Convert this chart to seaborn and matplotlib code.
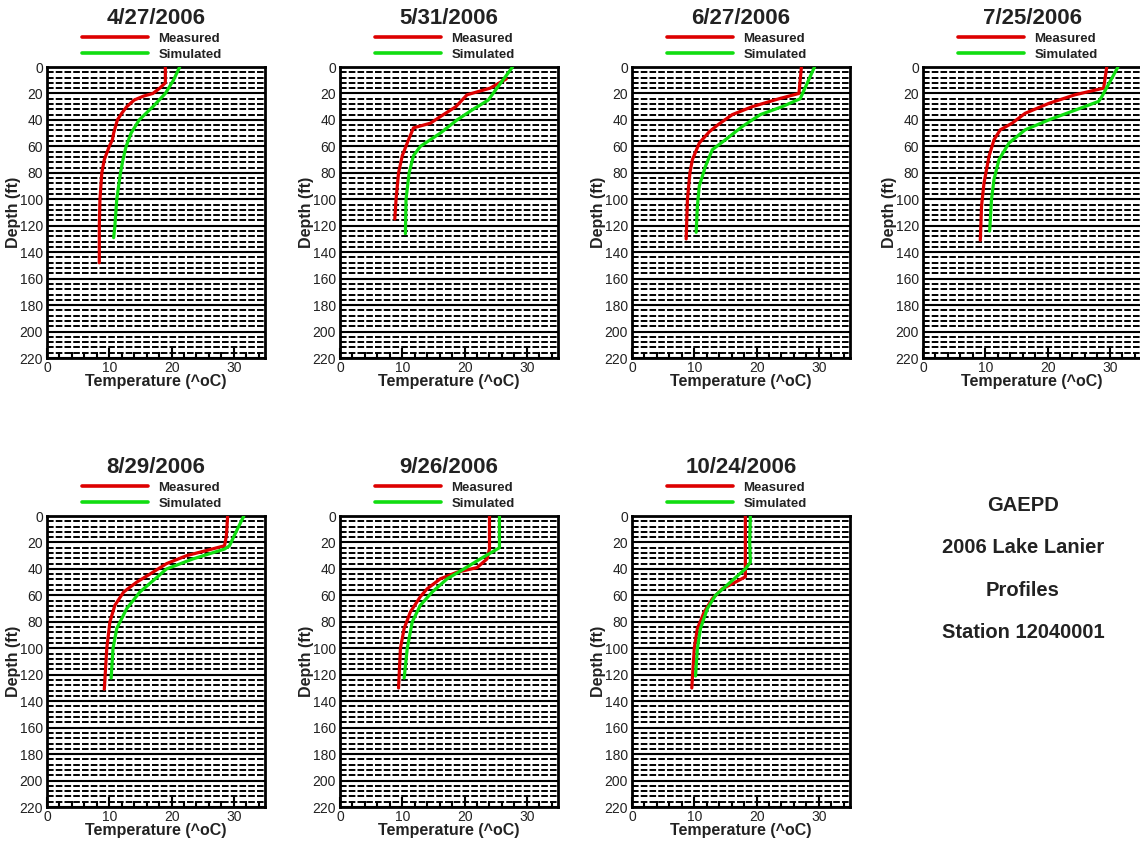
import numpy as np
import pandas as pd
import matplotlib
matplotlib.use("Agg")
import matplotlib.pyplot as plt
from matplotlib.ticker import MultipleLocator
import seaborn as sns

sns.set_theme(style="white")
plt.rcParams['font.family'] = ['Liberation Sans', 'DejaVu Sans']

# ---------------- data ----------------
dates = ["4/27/2006", "5/31/2006", "6/27/2006", "7/25/2006",
         "8/29/2006", "9/26/2006", "10/24/2006"]

meas_depth_0427 = [0, 12, 16, 20, 22, 25, 30, 35, 40, 50, 55, 60, 70, 80, 100, 120, 148]
meas_temp_0427 = [19.0, 19.0, 18.1, 17.0, 15.5, 14.0, 12.8, 12.0, 11.3, 10.7, 10.5, 10.0, 9.2, 8.8, 8.5, 8.4, 8.4]
sim_depth_0427 = [0, 10, 20, 30, 40, 50, 60, 70, 80, 100, 120, 129]
sim_temp_0427 = [21.3, 20.3, 19.0, 17.0, 14.8, 13.5, 12.7, 12.2, 11.8, 11.2, 10.9, 10.7]

meas_depth_0531 = [9, 16, 21, 30, 36, 42.5, 46, 55, 67, 80, 100, 115]
meas_temp_0531 = [26.7, 24.1, 20.4, 18.6, 16.6, 14.5, 11.8, 11.0, 10.0, 9.4, 9.0, 8.8]
sim_depth_0531 = [0, 16, 25, 32.5, 40, 50, 60, 67, 80, 100, 126]
sim_temp_0531 = [27.7, 25.2, 23.8, 21.2, 18.8, 16.1, 12.9, 11.8, 11.1, 10.6, 10.5]

meas_depth_0627 = [0, 20, 24, 30, 36, 44, 49, 57.5, 70, 80, 100, 130]
meas_temp_0627 = [27.2, 26.8, 23.6, 19.3, 16.1, 13.7, 12.4, 10.8, 9.7, 9.3, 8.9, 8.7]
sim_depth_0627 = [0, 24, 30, 36, 45, 55, 62.5, 75, 90, 105, 125]
sim_temp_0627 = [29.3, 27.0, 24.1, 20.6, 17.7, 15.0, 12.9, 11.8, 10.8, 10.5, 10.3]

meas_depth_0725 = [0, 16, 21, 27.5, 35, 42.5, 47.5, 55, 67.5, 87.5, 105, 131]
meas_temp_0725 = [29.5, 29.0, 24.4, 20.2, 16.4, 14.3, 12.4, 11.4, 10.6, 9.8, 9.4, 9.2]
sim_depth_0725 = [0, 22.5, 26, 32.5, 40, 47.5, 57.5, 70, 85, 100, 124]
sim_temp_0725 = [31.3, 28.7, 28.2, 24.5, 20.2, 16.4, 13.8, 12.2, 11.4, 11.0, 10.7]

meas_depth_0829 = [0, 15, 22.5, 30, 36, 44, 50, 57.5, 67.5, 80, 100, 131]
meas_temp_0829 = [29.0, 28.8, 28.5, 22.4, 19.2, 16.5, 14.4, 12.3, 10.9, 10.1, 9.6, 9.2]
sim_depth_0829 = [0, 12.5, 22.5, 25, 32.5, 40, 49, 57.5, 70, 85, 100, 122.5]
sim_temp_0829 = [31.6, 30.3, 29.3, 28.5, 23.4, 19.2, 17.0, 14.9, 12.8, 11.2, 10.6, 10.3]

meas_depth_0926 = [0, 25, 32.5, 39, 42.5, 47.5, 55, 61, 72.5, 85, 100, 130]
meas_temp_0926 = [24.0, 24.0, 23.6, 22.0, 18.8, 16.1, 14.0, 12.9, 11.3, 10.3, 9.7, 9.4]
sim_depth_0926 = [0, 24, 32.5, 40, 47.5, 57.5, 67.5, 80, 100, 122.5]
sim_temp_0926 = [25.6, 25.6, 22.5, 19.9, 17.2, 14.8, 12.9, 11.6, 10.8, 10.3]

meas_depth_1024 = [0, 35, 46, 50, 55, 62.5, 72.5, 85, 100, 130]
meas_temp_1024 = [18.2, 18.2, 18.2, 16.6, 14.5, 12.9, 11.6, 10.5, 10.0, 9.6]
sim_depth_1024 = [0, 20, 35, 40, 50, 60, 70, 85, 100, 121]
sim_temp_1024 = [19.0, 18.9, 19.0, 18.2, 15.8, 13.4, 12.1, 11.0, 10.5, 10.2]

measured = [
    (meas_depth_0427, meas_temp_0427), (meas_depth_0531, meas_temp_0531),
    (meas_depth_0627, meas_temp_0627), (meas_depth_0725, meas_temp_0725),
    (meas_depth_0829, meas_temp_0829), (meas_depth_0926, meas_temp_0926),
    (meas_depth_1024, meas_temp_1024),
]
simulated = [
    (sim_depth_0427, sim_temp_0427), (sim_depth_0531, sim_temp_0531),
    (sim_depth_0627, sim_temp_0627), (sim_depth_0725, sim_temp_0725),
    (sim_depth_0829, sim_temp_0829), (sim_depth_0926, sim_temp_0926),
    (sim_depth_1024, sim_temp_1024),
]

depth_ticks = [0, 20, 40, 60, 80, 100, 120, 140, 160, 180, 200, 220]
temp_ticks = [0, 10, 20, 30]
info_lines = ["GAEPD", "2006 Lake Lanier", "Profiles", "Station 12040001"]

# ---------------- figure ----------------
W, H = 1140, 846
fig = plt.figure(figsize=(W / 100, H / 100), dpi=100)

lefts_px = [47, 340, 632, 923]
tops_px = [67, 516]
ax_w_px, ax_h_px = 218, 291

RED = "#dd0000"
GREEN = "#11dd11"

for i, date in enumerate(dates):
    r, c = divmod(i, 4)
    left = lefts_px[c] / W
    bottom = 1 - (tops_px[r] + ax_h_px) / H
    ax = fig.add_axes([left, bottom, ax_w_px / W, ax_h_px / H])

    md, mt = measured[i]
    sd, st = simulated[i]
    df = pd.concat([
        pd.DataFrame({"Depth": md, "Temp": mt, "Series": "Measured"}),
        pd.DataFrame({"Depth": sd, "Temp": st, "Series": "Simulated"}),
    ])
    sns.lineplot(data=df, x="Temp", y="Depth", hue="Series", orient="y",
                 estimator=None, sort=True,
                 palette={"Measured": RED, "Simulated": GREEN},
                 linewidth=2.3, ax=ax, zorder=5)

    ax.set_xlim(0, 35)
    ax.set_ylim(220, 0)
    ax.set_yticks(depth_ticks)
    ax.set_xticks(temp_ticks)
    ax.xaxis.set_minor_locator(MultipleLocator(2))
    ax.yaxis.set_minor_locator(MultipleLocator(4))

    ax.grid(False)
    ax.grid(axis="y", which="major", color="black", linewidth=1.5, linestyle="-", zorder=1)
    ax.grid(axis="y", which="minor", color="black", linewidth=1.4,
            linestyle=(0, (3.4, 1.1)), zorder=1)
    ax.set_axisbelow(True)

    ax.tick_params(axis="x", which="major", direction="in", length=7, width=1.5,
                   bottom=True, top=False, labelsize=10, pad=2, color="black")
    ax.tick_params(axis="x", which="minor", direction="in", length=4, width=1.5,
                   bottom=True, top=False, color="black")
    ax.tick_params(axis="y", which="both", length=0, labelsize=10, pad=3)
    for lab in ax.get_xticklabels() + ax.get_yticklabels():
        lab.set_color("#222222")

    for sp in ax.spines.values():
        sp.set_visible(True)
        sp.set_color("black")
        sp.set_linewidth(2)

    ax.set_xlabel("Temperature (^oC)", fontsize=11.5, fontweight="bold", color="#222222")
    ax.set_ylabel("Depth (ft)", fontsize=11.5, fontweight="bold", color="#222222")
    ax.xaxis.set_label_coords(0.5, -0.055)
    ax.yaxis.set_label_coords(-0.118, 0.5)

    ax.text(0.5, 1.165, date, transform=ax.transAxes, ha="center", va="center",
            fontsize=16, fontweight="bold", color="#222222")

    leg = ax.legend(loc="lower center", bbox_to_anchor=(0.48, 1.0), frameon=False,
                    handlelength=5.0, handletextpad=0.8,
                    labelspacing=0.28, borderaxespad=0.38, borderpad=0.1,
                    prop={"weight": "bold", "size": 9.5})
    for t in leg.get_texts():
        t.set_color("#222222")
    for h in leg.get_lines():
        h.set_linewidth(2.6)

for k, line in enumerate(info_lines):
    fig.text(1023 / W, 1 - (505 + k * 42.5) / H, line, ha="center", va="center",
             fontsize=14.5, fontweight="bold", color="#222222")

fig.savefig("out.png", dpi=100)
